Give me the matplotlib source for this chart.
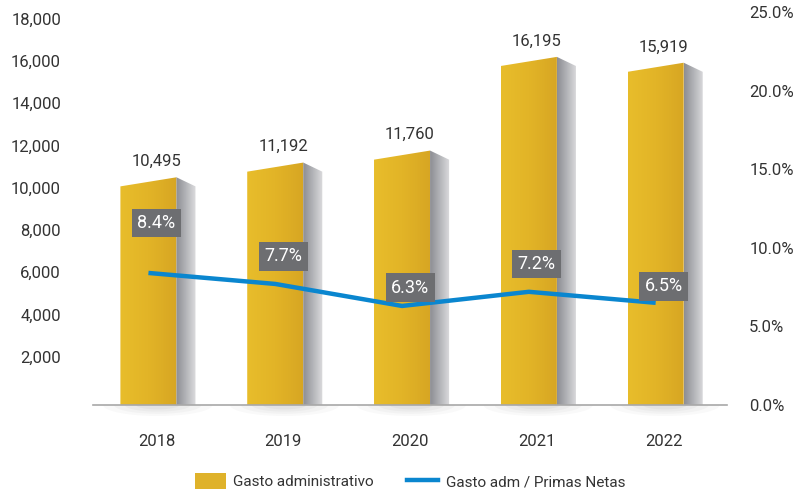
import numpy as np
import matplotlib
matplotlib.use("Agg")
import matplotlib.pyplot as plt
from matplotlib.patches import Polygon, Patch
from matplotlib.lines import Line2D
from matplotlib.colors import LinearSegmentedColormap

# データ
years = ["2018", "2019", "2020", "2021", "2022"]
gasto_adm = [10495, 11192, 11760, 16195, 15919]
ratio_pct = [8.4, 7.7, 6.3, 7.2, 6.5]

# ラベル位置のずれ（ポイント）
pct_label_offsets = [36, 20, 13, 20, 12]

plt.rcParams['font.family'] = ['Roboto', 'DejaVu Sans']
TEXT = '#333333'
BLUE = '#0a86cf'
BOX = '#6d6e71'

fig = plt.figure(figsize=(8.04, 4.94), dpi=100)
ax = fig.add_axes([0.1157, 0.1802, 0.7886, 0.7955])
ax2 = ax.twinx()

YMIN, YMAX = -284, 18320
ax.set_xlim(-0.5, 4.5)
ax.set_ylim(YMIN, YMAX)
ax2.set_ylim(0, 25)

# 3D風の棒の形
x_front0, x_front1, x_side1 = -0.284, 0.158, 0.308
slant = 430  # 上面の傾き（データ単位）

gold = LinearSegmentedColormap.from_list('gold', ['#e8bd2b', '#e2b427', '#d7a623'])
grey = LinearSegmentedColormap.from_list('grey', ['#8d8e93', '#b3b4b8', '#dcdcde'])
grad = np.linspace(0, 1, 64).reshape(1, -1)

for i, v in enumerate(gasto_adm):
    a, b, c = i + x_front0, i + x_front1, i + x_side1
    front = Polygon([(a, YMIN), (a, v - slant), (b, v), (b, YMIN)], closed=True,
                    facecolor='none', edgecolor='none')
    side = Polygon([(b, YMIN), (b, v), (c, v - slant), (c, YMIN)], closed=True,
                   facecolor='none', edgecolor='none')
    ax.add_patch(front)
    ax.add_patch(side)
    im1 = ax.imshow(grad, cmap=gold, extent=(a, b, YMIN, v), aspect='auto', zorder=2)
    im1.set_clip_path(front)
    im2 = ax.imshow(grad, cmap=grey, extent=(b, c, YMIN, v), aspect='auto', zorder=2)
    im2.set_clip_path(side)

    # 影
    t = np.linspace(np.pi, 2 * np.pi, 60)
    for k, al in zip([1.0, 0.8, 0.6, 0.4], [0.06, 0.07, 0.08, 0.09]):
        sx = i + 0.01 + 0.43 * k * np.cos(t)
        sy = YMIN + 520 * k * np.sin(t)
        sh = Polygon(np.column_stack([sx, sy]), closed=True, facecolor='#9a9a9a',
                     edgecolor='none', alpha=al, clip_on=False, zorder=0)
        ax.add_patch(sh)

    ax.annotate(f"{v:,}", xy=(i, v), xytext=(0, 6), textcoords='offset points',
                ha='center', va='bottom', fontsize=12, color=TEXT)

ax.set_xlim(-0.5, 4.5)
ax.set_ylim(YMIN, YMAX)
ax.axhline(YMIN, color='#a8a8a8', lw=1.2, zorder=3, clip_on=False)

# 折れ線（右軸）
line_x = np.arange(len(years)) + (x_front0 + x_front1) / 2
ax2.plot(line_x, ratio_pct, color=BLUE, lw=3.2, solid_capstyle='butt', zorder=4)
for i, (p, off) in enumerate(zip(ratio_pct, pct_label_offsets)):
    ax2.annotate(f"{p}%", xy=(i, p), xytext=(0, off), textcoords='offset points',
                 ha='center', va='center', fontsize=13, color='white', zorder=5,
                 bbox=dict(boxstyle='square,pad=0.3', fc=BOX, ec='none'))

# 軸
ax.set_xticks(range(len(years)))
ax.set_xticklabels(years)
ax.set_yticks(range(2000, 18001, 2000))
ax.set_yticklabels([f"{t:,}" for t in range(2000, 18001, 2000)])
ax.tick_params(axis='x', length=0, pad=21, labelsize=12, labelcolor=TEXT)
ax.tick_params(axis='y', length=0, pad=23, labelsize=12, labelcolor=TEXT)
ax2.set_yticks([0, 5, 10, 15, 20, 25])
ax2.set_yticklabels([f"{t:.1f}%" for t in [0, 5, 10, 15, 20, 25]])
ax2.tick_params(axis='y', length=0, pad=16, labelsize=12, labelcolor=TEXT)
for a_ in (ax, ax2):
    for s in a_.spines.values():
        s.set_visible(False)

handles = [Patch(facecolor='#dfb22a', edgecolor='none'),
           Line2D([0], [0], color=BLUE, lw=3.2)]
fig.legend(handles, ["Gasto administrativo", "Gasto adm / Primas Netas"],
           loc='center', bbox_to_anchor=(0.51, 0.026), ncol=2, frameon=False,
           fontsize=11, labelcolor=TEXT, handlelength=2.0, handleheight=1.2,
           columnspacing=2.2, handletextpad=0.5)

fig.savefig("out.png", dpi=100)
